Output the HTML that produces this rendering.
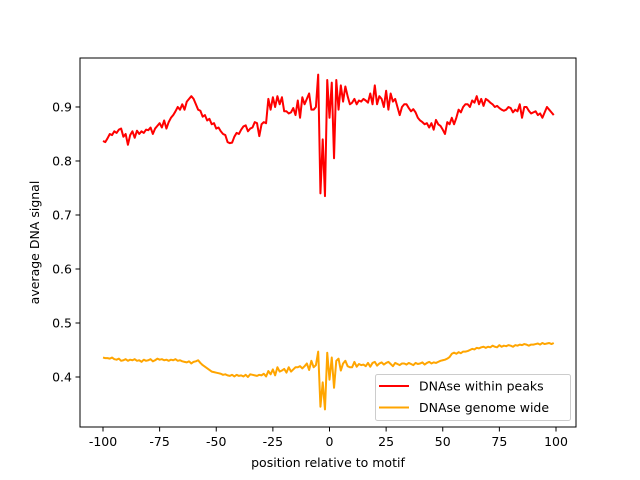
<!DOCTYPE html>
<html><head><meta charset="utf-8"><style>
body{margin:0;background:#fff}
svg{display:block;font-family:"DejaVu Sans","Liberation Sans",sans-serif}
</style></head><body>
<svg id="chart" width="640" height="480">
<rect width="640" height="480" fill="#fff"/>
<g id="plot"></g>
<g id="axes"></g>
</svg>
<script>
const positions = [];
for (let i = -100; i <= 99; i++) positions.push(i);
const peaksSignal = [
.837,.835,.842,.850,.848,.855,.852,.858,.860,.845,
.850,.830,.848,.855,.843,.856,.850,.855,.852,.858,
.857,.862,.850,.860,.865,.870,.862,.875,.860,.872,
.880,.885,.892,.900,.895,.905,.895,.910,.915,.920,
.915,.905,.895,.893,.882,.885,.875,.878,.868,.870,
.860,.862,.855,.850,.848,.835,.833,.834,.845,.852,
.850,.858,.864,.866,.855,.860,.862,.872,.870,.846,
.868,.872,.870,.915,.895,.918,.900,.920,.905,.918,
.892,.892,.888,.890,.898,.885,.912,.880,.918,.905,
.915,.925,.895,.895,.900,.960,.740,.840,.735,.950,
.880,.945,.805,.950,.895,.940,.910,.938,.920,.905,
.908,.915,.905,.912,.910,.915,.912,.908,.925,.905,
.940,.905,.920,.915,.900,.930,.895,.925,.910,.915,
.900,.885,.900,.905,.905,.898,.892,.896,.890,.880,
.875,.872,.868,.870,.862,.870,.858,.876,.868,.865,
.858,.850,.872,.868,.880,.868,.880,.895,.890,.900,
.905,.905,.900,.912,.908,.920,.905,.915,.902,.915,
.912,.908,.905,.900,.902,.898,.895,.893,.895,.900,
.898,.890,.895,.892,.905,.880,.900,.900,.893,.888,
.890,.892,.885,.888,.880,.890,.900,.895,.890,.885];
const genomeSignal = [
.436,.435,.435,.434,.436,.433,.432,.434,.430,.431,
.433,.430,.432,.431,.433,.430,.431,.428,.432,.430,
.431,.433,.429,.431,.434,.432,.433,.431,.432,.430,
.432,.431,.433,.430,.431,.429,.428,.427,.429,.425,
.428,.429,.431,.426,.422,.419,.416,.413,.410,.409,
.408,.407,.406,.404,.405,.403,.402,.404,.401,.404,
.402,.403,.401,.404,.400,.405,.404,.403,.402,.404,
.403,.406,.401,.411,.405,.414,.403,.418,.410,.412,
.415,.408,.418,.410,.414,.418,.418,.420,.416,.420,
.425,.413,.430,.418,.422,.447,.345,.390,.340,.445,
.395,.436,.380,.430,.434,.412,.425,.430,.420,.418,
.418,.428,.419,.424,.422,.423,.420,.426,.419,.426,
.428,.421,.425,.427,.423,.426,.428,.424,.420,.426,
.424,.422,.425,.425,.423,.426,.424,.422,.426,.424,
.425,.427,.423,.426,.428,.425,.427,.426,.428,.430,
.431,.432,.434,.437,.443,.445,.443,.446,.444,.447,
.447,.448,.450,.452,.451,.454,.453,.455,.456,.454,
.456,.455,.458,.456,.455,.459,.456,.458,.457,.459,
.458,.456,.459,.458,.460,.459,.461,.460,.458,.460,
.460,.461,.462,.460,.463,.461,.462,.463,.461,.463];
const xTicks = [-100,-75,-50,-25,0,25,50,75,100];
const yTicks = [0.4,0.5,0.6,0.7,0.8,0.9];
const seriesNames = ["DNAse within peaks","DNAse genome wide"];

const L=80,R=576,T=58,B=427;
const FS=12.5;
const xs = v => 103 + (v+100)*(556-103)/200;
const Y0=0.3074, Y1=0.9907;
const ys = v => B - (v-Y0)/(Y1-Y0)*(B-T);
const NS="http://www.w3.org/2000/svg";
function mk(tag, attrs, parent){const e=document.createElementNS(NS,tag);for(const k in attrs)e.setAttribute(k,attrs[k]);parent.appendChild(e);return e;}
const plot=document.getElementById('plot'), axes=document.getElementById('axes');

function drawLine(vals,color,name){
  const d=vals.map((v,i)=>(i?'L':'M')+xs(positions[i]).toFixed(2)+' '+ys(v).toFixed(2)).join(' ');
  const p=mk('path',{d:d,fill:'none',stroke:color,'stroke-width':2,'stroke-linejoin':'round'},plot);
  
  
}
drawLine(peaksSignal,'#ff0000','series-within-peaks');
drawLine(genomeSignal,'#ffa500','series-genome-wide');

const frame=mk('rect',{x:L,y:T,width:R-L,height:B-T,fill:'none',stroke:'#000','stroke-width':1},axes);



xTicks.forEach(t=>{
  const x=xs(t);
  mk('line',{x1:x,x2:x,y1:B,y2:B+4.5,stroke:'#000','stroke-width':1},axes);
  const tx=mk('text',{x:x,y:B+19,'text-anchor':'middle','font-size':FS},axes);
  tx.textContent=t;
  
  
});
yTicks.forEach(t=>{
  const y=ys(t);
  mk('line',{x1:L-4.5,x2:L,y1:y,y2:y,stroke:'#000','stroke-width':1},axes);
  const tx=mk('text',{x:L-8,y:y+4.5,'text-anchor':'end','font-size':FS},axes);
  tx.textContent=t.toFixed(1);
  
  
});
const xt=mk('text',{x:(L+R)/2,y:467,'text-anchor':'middle','font-size':FS},axes);
xt.textContent='position relative to motif';


const yt=mk('text',{x:0,y:0,'text-anchor':'middle','font-size':FS,transform:'translate(39,'+((T+B)/2)+') rotate(-90)'},axes);
yt.textContent='average DNA signal';



const lg=mk('g',{},axes);


mk('rect',{x:375.5,y:374.5,width:195,height:46,rx:2,fill:'#fff','fill-opacity':0.8,stroke:'#ccc','stroke-width':1},lg);
const colors=['#ff0000','#ffa500'];
seriesNames.forEach((n,i)=>{
  const y=386+i*21.5;
  const g=mk('g',{},lg);
  
  
  mk('line',{x1:379,x2:409,y1:y,y2:y,stroke:colors[i],'stroke-width':2},g);
  const t=mk('text',{x:419,y:y+4.5,'font-size':FS},g);
  t.textContent=n;
});
</script>
</body></html>
